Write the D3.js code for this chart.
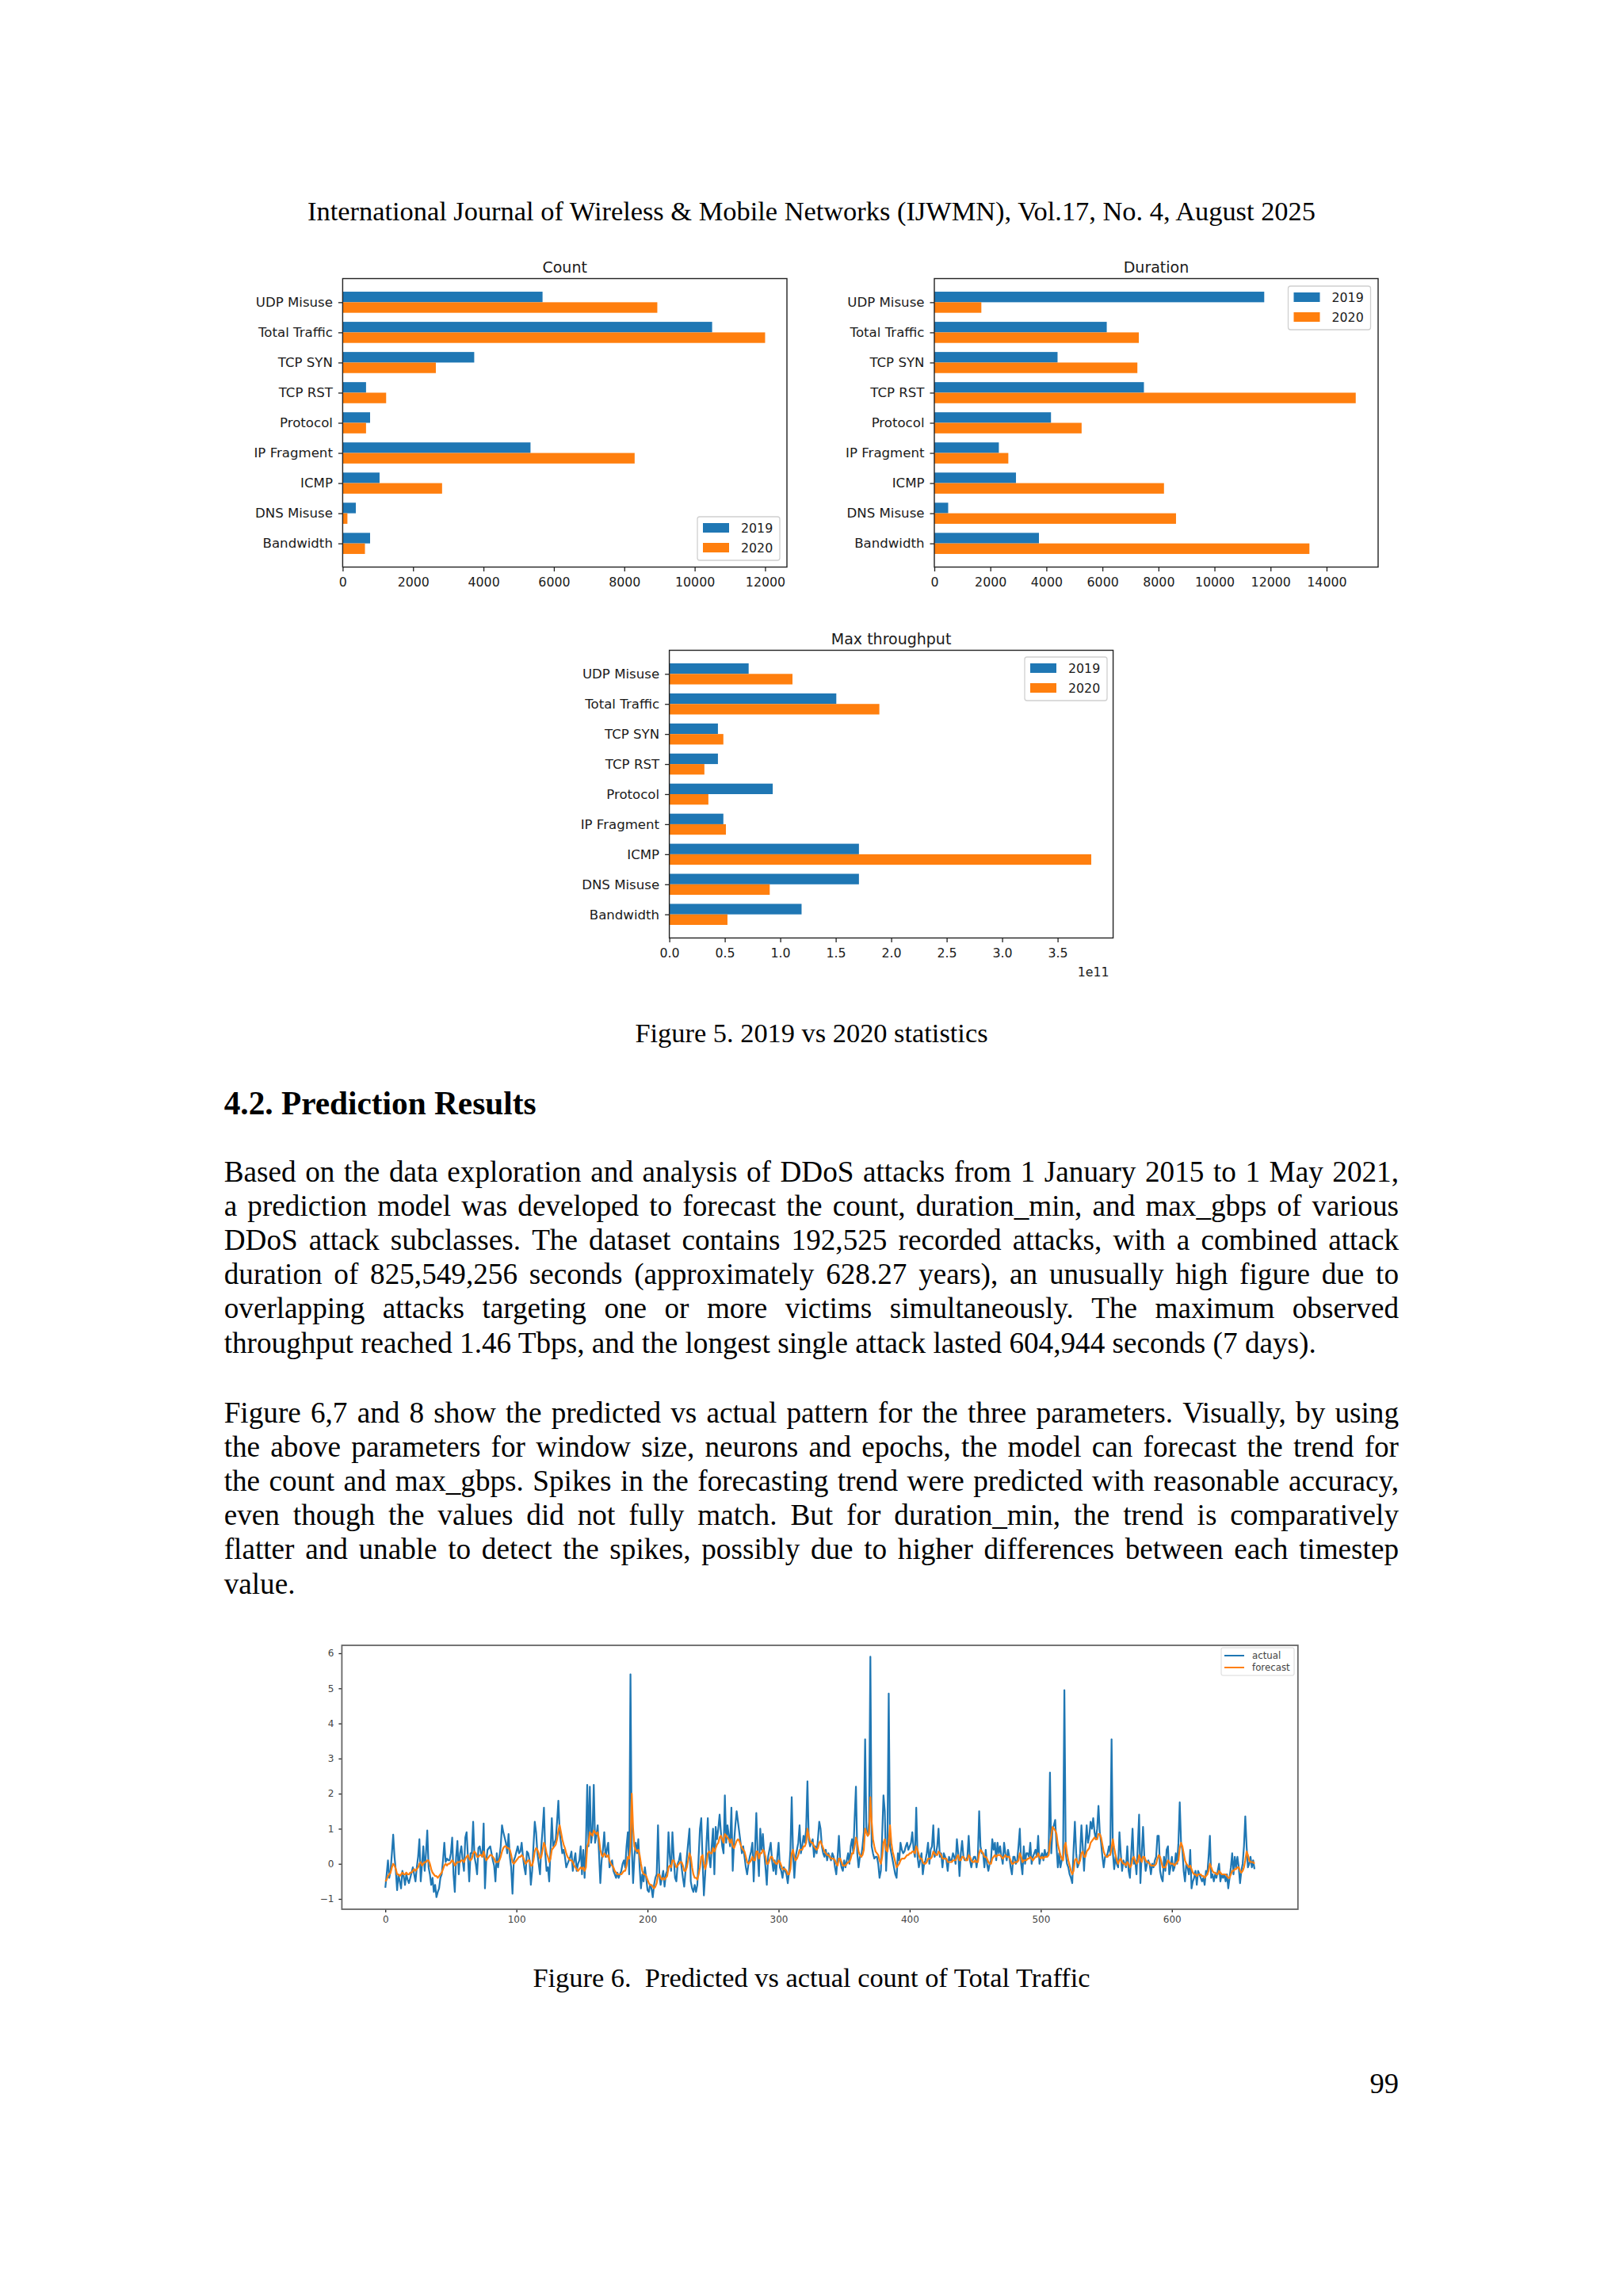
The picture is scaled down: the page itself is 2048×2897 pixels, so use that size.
<!DOCTYPE html>
<html><head><meta charset="utf-8">
<script src="https://cdn.jsdelivr.net/npm/d3@7"></script>
<style>html,body{margin:0;padding:0;background:#fff;} svg{display:block;}</style>
</head><body>
<svg id="page" width="2048" height="2897"></svg>
<script>
// ---------------- DATA ----------------
const categories = ["UDP Misuse","Total Traffic","TCP SYN","TCP RST","Protocol","IP Fragment","ICMP","DNS Misuse","Bandwidth"];
const years = ["2019","2020"];
const count2019 = [5678, 10495, 3737, 664, 779, 5336, 1048, 374, 779];
const count2020 = [8938, 12000, 2647, 1235, 664, 8294, 2824, 135, 633];
const duration2019 = [11775, 6154, 4398, 7481, 4164, 2303, 2914, 494, 3734];
const duration2020 = [1678, 7299, 7247, 15041, 5257, 2641, 8197, 8626, 13388];
const throughput2019 = [0.715e11, 1.505e11, 0.438e11, 0.438e11, 0.932e11, 0.487e11, 1.709e11, 1.709e11, 1.192e11];
const throughput2020 = [1.110e11, 1.893e11, 0.487e11, 0.316e11, 0.352e11, 0.510e11, 3.803e11, 0.905e11, 0.524e11];
const countTicks = [0,2000,4000,6000,8000,10000,12000];
const durationTicks = [0,2000,4000,6000,8000,10000,12000,14000];
const throughputTicks = [0,0.5e11,1e11,1.5e11,2e11,2.5e11,3e11,3.5e11];
const throughputTickLabels = ["0.0","0.5","1.0","1.5","2.0","2.5","3.0","3.5"];
const lineSeriesNames = ["actual","forecast"];
const lineXTicks = [0,100,200,300,400,500,600];
const lineYTicks = [-1,0,1,2,3,4,5,6];
const actual = [-0.68,-0.3,0.1,-0.4,-0.2,0.3,0.83,0.2,-0.2,-0.75,
-0.3,-0.5,-0.7,-0.2,-0.35,-0.6,-0.3,-0.45,-0.55,-0.4,
-0.25,-0.1,-0.3,-0.5,-0.1,0.2,0.7,-0.5,0.0,0.5,
-0.2,0.3,0.95,-0.1,-0.3,-0.6,-0.4,-0.8,-0.6,-0.95,
-0.8,-0.7,-0.4,-0.3,0.1,0.6,0.05,0.15,0.1,0.1,
0.3,0.75,-0.3,-0.8,0.2,0.65,-0.3,0.3,0.5,0.1,
-0.2,0.75,0.9,0.2,-0.5,0.3,0.3,1.2,0.2,0.0,
-0.3,0.45,0.5,0.3,0.2,1.15,-0.7,0.1,0.4,0.45,
0.5,0.3,0.1,-0.05,-0.5,0.3,-0.1,0.2,0.5,1.1,
0.9,0.75,0.6,0.3,0.85,0.2,-0.1,-0.85,0.1,0.2,
0.35,0.5,0.3,0.35,0.6,0.2,-0.1,-0.3,0.35,0.3,
0.1,-0.6,-0.2,0.5,1.2,0.9,0.3,0.0,-0.3,0.5,
1.0,1.6,0.3,-0.2,-0.1,-0.5,0.4,1.3,0.5,0.6,
0.7,1.2,1.8,0.9,0.6,0.3,0.4,0.2,-0.1,0.0,
0.1,0.2,0.35,-0.2,0.1,0.3,-0.2,0.0,0.1,0.5,
-0.3,0.4,-0.4,0.5,2.25,0.5,2.2,0.6,0.9,2.25,
0.6,0.8,1.1,0.3,-0.55,0.1,0.4,0.9,0.2,0.4,
0.6,-0.1,0.0,0.1,-0.2,-0.3,-0.4,-0.25,-0.4,-0.3,
-0.2,0.0,0.1,-0.1,0.5,0.9,-0.3,5.4,0.5,-0.55,
0.2,0.6,0.3,0.7,-0.1,-0.7,-0.3,-0.5,-0.1,-0.4,
-0.75,-0.8,-0.6,-0.7,-0.95,-0.6,-0.4,-0.3,1.1,-0.3,
-0.6,-0.4,-0.2,-0.65,-0.3,-0.2,0.9,0.2,-0.2,0.9,
0.2,-0.4,-0.5,0.0,0.1,0.3,-0.1,-0.4,-0.65,-0.2,
0.2,0.6,1.0,-0.5,-0.7,-0.8,-0.6,-0.8,-0.6,0.2,
1.0,1.3,0.1,-0.9,-0.3,0.6,1.3,0.2,-0.1,0.5,
1.0,-0.3,1.05,0.7,1.0,1.4,0.9,0.5,0.3,1.95,
0.6,1.1,0.8,0.5,1.6,-0.2,0.6,1.1,1.5,1.2,
0.9,0.6,0.3,0.5,0.2,-0.1,-0.3,0.0,0.2,0.35,
0.6,-0.5,0.4,1.45,0.3,-0.35,1.0,0.4,0.85,0.3,
-0.1,-0.6,0.2,0.4,0.6,0.1,-0.2,0.1,-0.3,0.2,
0.6,-0.1,-0.2,-0.4,-0.1,-0.2,-0.3,-0.55,-0.2,0.4,
1.9,0.3,-0.4,0.2,0.4,0.6,1.1,0.3,0.5,0.8,
0.6,1.0,2.35,0.7,0.5,0.6,0.7,0.2,0.5,0.3,
0.7,1.2,1.0,0.5,0.3,0.2,0.4,0.1,0.3,0.2,
0.1,0.3,0.2,-0.1,-0.3,0.2,0.8,0.1,-0.1,-0.2,
0.1,-0.1,0.1,0.3,0.0,0.5,0.7,0.3,1.3,2.2,
0.3,-0.1,0.2,0.2,0.5,0.9,3.55,0.9,0.8,1.2,
5.9,0.5,0.3,0.15,0.2,0.2,0.0,-0.4,-0.2,0.8,
1.95,1.5,-0.2,0.6,4.85,0.5,0.3,0.1,-0.1,-0.3,
-0.4,0.3,0.1,0.6,0.4,0.3,0.35,0.5,0.6,0.4,
0.5,0.6,0.9,0.4,0.2,1.6,0.2,-0.1,0.1,0.3,
-0.3,0.0,0.1,0.3,0.6,0.0,0.4,0.5,1.1,0.2,
0.3,0.5,1.0,0.2,0.3,-0.1,0.3,0.2,0.1,-0.2,
0.2,0.1,0.1,0.3,0.2,0.0,0.7,0.3,-0.35,0.3,
0.65,0.2,0.1,0.1,0.2,0.8,0.1,-0.1,0.1,0.2,
0.2,-0.1,0.2,1.5,0.5,0.3,0.3,-0.1,0.4,0.0,
-0.2,0.0,0.1,0.7,0.4,0.6,0.1,0.6,0.3,0.5,
0.2,0.0,0.6,0.3,0.1,0.4,0.2,-0.1,-0.3,0.2,
0.2,0.0,0.1,0.5,1.0,0.0,-0.3,0.5,0.0,0.3,
0.3,0.2,0.6,0.0,0.2,0.3,0.4,0.2,0.8,0.0,
0.2,0.3,0.1,0.4,0.2,0.3,0.35,2.6,0.3,1.0,
1.1,1.25,0.5,-0.1,0.3,-0.1,0.1,0.2,4.95,0.3,
0.0,-0.1,-0.3,-0.4,-0.55,0.4,1.2,0.3,-0.1,0.0,
0.3,1.1,0.5,-0.2,0.5,1.1,0.6,0.8,1.2,1.0,
1.3,0.9,0.7,1.0,1.65,0.9,0.6,0.2,-0.1,0.2,
0.2,0.3,0.5,0.3,3.55,0.3,-0.15,0.2,0.0,-0.1,
0.9,0.3,-0.2,0.1,0.0,-0.1,0.5,-0.2,-0.4,0.3,
1.0,0.0,0.1,-0.3,0.5,1.4,-0.55,0.3,1.05,0.2,
-0.2,0.0,0.1,0.0,-0.3,0.0,-0.1,0.1,0.2,0.8,
0.8,-0.2,-0.4,-0.5,0.2,-0.2,0.4,0.5,-0.3,-0.1,
0.2,-0.2,-0.1,0.3,0.0,0.6,1.75,0.6,0.4,-0.2,
-0.5,0.0,-0.1,-0.3,0.4,-0.7,-0.5,-0.4,-0.2,-0.6,
-0.2,-0.3,-0.4,-0.5,-0.4,-0.6,-0.2,-0.3,0.2,0.8,
-0.4,-0.3,-0.5,-0.3,-0.4,-0.2,0.0,-0.5,-0.3,-0.4,
-0.3,-0.5,-0.3,-0.7,-0.4,-0.1,0.3,-0.3,0.2,-0.1,
0.2,-0.1,-0.55,-0.2,0.0,0.5,1.35,0.5,-0.1,0.0,
0.2,-0.1,0.1,-0.15];
const forecast = [-0.5,-0.45,-0.35,-0.3,-0.25,-0.1,0.0,-0.05,-0.15,-0.3,
-0.3,-0.35,-0.3,-0.25,-0.3,-0.3,-0.25,-0.3,-0.3,-0.25,
-0.25,-0.2,-0.15,-0.2,-0.15,-0.1,0.0,0.05,-0.05,0.0,
0.05,0.05,0.1,0.1,0.0,-0.15,-0.25,-0.3,-0.35,-0.35,
-0.4,-0.35,-0.3,-0.25,-0.15,-0.05,0.0,-0.05,0.0,0.0,
0.05,0.1,0.05,-0.05,0.0,0.05,0.05,0.05,0.1,0.1,
0.05,0.15,0.2,0.25,0.15,0.1,0.15,0.3,0.35,0.3,
0.2,0.2,0.25,0.25,0.2,0.35,0.2,0.1,0.15,0.2,
0.25,0.25,0.2,0.15,0.05,0.05,0.05,0.1,0.2,0.35,
0.45,0.5,0.5,0.45,0.45,0.4,0.25,0.05,0.0,0.05,
0.1,0.15,0.2,0.2,0.25,0.2,0.1,0.0,0.05,0.1,
0.1,-0.05,-0.05,0.1,0.35,0.45,0.4,0.3,0.15,0.2,
0.4,0.6,0.5,0.3,0.2,0.05,0.15,0.4,0.45,0.5,
0.55,0.7,0.95,1.1,0.9,0.7,0.55,0.45,0.3,0.2,
0.15,0.1,0.1,0.05,-0.05,-0.1,-0.15,-0.2,-0.15,-0.1,
-0.15,-0.1,-0.2,-0.1,0.5,0.6,0.9,0.85,0.8,0.95,
0.9,0.85,0.9,0.7,0.4,0.25,0.2,0.3,0.25,0.2,
0.25,0.1,0.0,-0.05,-0.1,-0.2,-0.25,-0.3,-0.3,-0.3,
-0.3,-0.25,-0.2,-0.2,-0.05,0.2,0.15,0.5,2.0,1.0,
0.5,0.4,0.35,0.4,0.25,0.0,-0.2,-0.3,-0.3,-0.35,
-0.45,-0.55,-0.6,-0.6,-0.65,-0.7,-0.65,-0.55,-0.3,-0.3,
-0.4,-0.45,-0.4,-0.45,-0.4,-0.35,-0.1,-0.05,-0.1,0.1,
0.1,0.0,-0.1,-0.05,0.0,0.05,0.05,-0.05,-0.2,-0.2,
-0.1,0.1,0.3,0.2,-0.1,-0.3,-0.4,-0.4,-0.45,-0.3,
-0.1,0.2,0.25,0.0,-0.15,0.0,0.3,0.35,0.3,0.3,
0.45,0.35,0.45,0.55,0.6,0.75,0.8,0.7,0.6,0.85,
0.8,0.75,0.7,0.6,0.7,0.5,0.45,0.55,0.65,0.7,
0.65,0.55,0.45,0.4,0.35,0.2,0.05,0.0,0.05,0.1,
0.2,0.1,0.1,0.35,0.35,0.15,0.3,0.3,0.4,0.35,
0.2,0.0,0.0,0.1,0.2,0.2,0.1,0.05,0.0,0.0,
0.1,0.05,-0.05,-0.15,-0.15,-0.15,-0.2,-0.3,-0.3,-0.15,
0.3,0.4,0.2,0.1,0.15,0.25,0.4,0.4,0.4,0.5,
0.5,0.6,1.0,0.8,0.65,0.6,0.6,0.5,0.45,0.4,
0.45,0.6,0.65,0.55,0.45,0.35,0.3,0.25,0.25,0.2,
0.15,0.15,0.15,0.1,0.0,-0.05,0.15,0.15,0.05,-0.05,
-0.05,-0.05,0.0,0.05,0.05,0.15,0.3,0.3,0.5,0.75,
0.6,0.35,0.25,0.2,0.25,0.4,1.0,0.9,0.8,0.85,
1.9,1.2,0.7,0.5,0.35,0.3,0.25,0.1,0.0,0.2,
0.6,0.7,0.4,0.35,0.6,1.1,0.6,0.35,0.2,0.05,
-0.1,-0.05,0.0,0.1,0.15,0.15,0.15,0.2,0.25,0.25,
0.3,0.3,0.35,0.35,0.3,0.5,0.4,0.25,0.15,0.15,
0.05,0.0,0.0,0.05,0.15,0.15,0.15,0.2,0.35,0.3,
0.25,0.25,0.35,0.3,0.25,0.15,0.15,0.15,0.15,0.05,
0.05,0.05,0.05,0.1,0.1,0.1,0.2,0.25,0.1,0.1,
0.2,0.2,0.15,0.1,0.1,0.25,0.2,0.1,0.05,0.05,
0.1,0.05,0.05,0.3,0.4,0.35,0.3,0.2,0.2,0.15,
0.05,0.0,0.0,0.15,0.2,0.25,0.2,0.25,0.25,0.25,
0.2,0.15,0.2,0.25,0.2,0.2,0.2,0.1,0.0,0.0,
0.05,0.05,0.05,0.1,0.3,0.2,0.05,0.1,0.1,0.1,
0.15,0.15,0.2,0.15,0.1,0.15,0.2,0.2,0.3,0.2,
0.15,0.2,0.15,0.2,0.2,0.2,0.25,0.6,0.8,1.05,
1.0,0.95,0.85,0.55,0.4,0.25,0.15,0.1,0.5,0.6,
0.3,0.1,-0.05,-0.2,-0.3,-0.2,0.1,0.15,0.05,0.0,
0.1,0.3,0.35,0.2,0.2,0.35,0.4,0.45,0.6,0.65,
0.7,0.75,0.7,0.7,0.85,0.85,0.75,0.55,0.35,0.25,
0.2,0.2,0.25,0.25,0.45,0.7,0.45,0.25,0.1,0.0,
0.1,0.15,0.05,0.0,0.0,-0.05,0.05,0.0,-0.1,-0.05,
0.15,0.2,0.1,0.0,0.05,0.25,0.15,0.05,0.2,0.2,
0.1,0.05,0.05,0.0,-0.05,-0.05,-0.05,-0.05,0.0,0.15,
0.25,0.2,0.05,-0.1,-0.1,-0.1,0.0,0.1,0.05,0.0,
0.0,0.0,-0.05,0.0,0.05,0.1,0.45,0.6,0.5,0.3,
0.1,0.0,-0.05,-0.1,-0.05,-0.15,-0.25,-0.3,-0.3,-0.35,
-0.3,-0.3,-0.3,-0.35,-0.35,-0.4,-0.35,-0.3,-0.2,0.0,
-0.1,-0.2,-0.25,-0.25,-0.3,-0.3,-0.2,-0.25,-0.3,-0.3,
-0.3,-0.3,-0.35,-0.4,-0.4,-0.3,-0.2,-0.2,-0.15,-0.15,
-0.1,-0.1,-0.2,-0.25,-0.2,-0.1,0.1,0.35,0.25,0.1,
0.05,0.05,0.05,0.0];

const headerText = "International Journal of Wireless & Mobile Networks (IJWMN), Vol.17, No. 4, August 2025";
const fig5Caption = "Figure 5. 2019 vs 2020 statistics";
const headingText = "4.2. Prediction Results";
const para1 = [
 "Based on the data exploration and analysis of DDoS attacks from 1 January 2015 to 1 May 2021,",
 "a prediction model was developed to forecast the count, duration_min, and max_gbps of various",
 "DDoS attack subclasses. The dataset contains 192,525 recorded attacks, with a combined attack",
 "duration of 825,549,256 seconds (approximately 628.27 years), an unusually high figure due to",
 "overlapping attacks targeting one or more victims simultaneously. The maximum observed",
 "throughput reached 1.46 Tbps, and the longest single attack lasted 604,944 seconds (7 days)."];
const para2 = [
 "Figure 6,7 and 8 show the predicted vs actual pattern for the three parameters. Visually, by using",
 "the above parameters for window size, neurons and epochs, the model can forecast the trend for",
 "the count and max_gbps. Spikes in the forecasting trend were predicted with reasonable accuracy,",
 "even though the values did not fully match. But for duration_min, the trend is comparatively",
 "flatter and unable to detect the spikes, possibly due to higher differences between each timestep",
 "value."];
const fig6Caption = "Figure 6.  Predicted vs actual count of Total Traffic";
const pageNumber = "99";

// ---------------- DRAWING ----------------
const svg = d3.select('#page');
svg.append('rect').attr('width',2048).attr('height',2897).attr('fill','#fff');
const BLUE='#1f77b4', ORANGE='#ff7f0e';
const SANS = "'DejaVu Sans', sans-serif";
const SERIF = "'Liberation Serif', 'Times New Roman', serif";
const TXT = '#1a1a1a';

function styleAxis(sel, size) {
  sel.attr('font-family', SANS).attr('font-size', size);
  sel.select('.domain').remove();
  sel.selectAll('.tick line').attr('stroke', '#222').attr('stroke-width', 1.3);
  sel.selectAll('.tick text').attr('fill', TXT);
}

function barLegend(bx, by) {
  const g = svg.append('g');
  g.append('rect').attr('x',bx).attr('y',by).attr('width',104).attr('height',55).attr('rx',3)
    .attr('fill','#fff').attr('fill-opacity',0.85).attr('stroke','#d0d0d0').attr('stroke-width',1.3);
  const cols = [BLUE, ORANGE];
  years.forEach((yr,i)=>{
    g.append('rect').attr('x',bx+7).attr('y',by+8+i*25).attr('width',33).attr('height',12).attr('fill',cols[i]);
    g.append('text').attr('x',bx+55).attr('y',by+14+i*25).attr('dy','0.36em')
      .attr('font-family',SANS).attr('font-size',15.8).attr('fill',TXT).text(yr);
  });
}

function barChart(cfg) {
  const {left, top, width, height, title, v2019, v2020, xMax, ticks, labels, legendX, legendY, offsetText} = cfg;
  const g = svg.append('g');
  const x = d3.scaleLinear().domain([0,xMax]).range([left,left+width]);
  const y = d3.scaleLinear().domain([-0.785, categories.length-1+0.785]).range([top, top+height]);
  const bh = y(0.35)-y(0);
  g.append('g').selectAll('rect').data(v2019).join('rect')
    .attr('x',x(0)).attr('y',(d,i)=>y(i-0.35)).attr('width',d=>x(d)-x(0)).attr('height',bh).attr('fill',BLUE);
  g.append('g').selectAll('rect').data(v2020).join('rect')
    .attr('x',x(0)).attr('y',(d,i)=>y(i)).attr('width',d=>x(d)-x(0)).attr('height',bh).attr('fill',ORANGE);
  const xa = g.append('g').attr('transform',`translate(0,${top+height})`)
    .call(d3.axisBottom(x).tickValues(ticks).tickFormat((d,i)=>labels[i]).tickSize(5.5).tickPadding(8));
  styleAxis(xa, 15.8);
  const ya = g.append('g').attr('transform',`translate(${left},0)`)
    .call(d3.axisLeft(y).tickValues(d3.range(categories.length)).tickFormat(i=>categories[i]).tickSize(5.5).tickPadding(7));
  styleAxis(ya, 16.6);
  g.append('rect').attr('x',left).attr('y',top).attr('width',width).attr('height',height)
    .attr('fill','none').attr('stroke','#222').attr('stroke-width',1.4);
  g.append('text').attr('x',left+width/2).attr('y',top-8).attr('text-anchor','middle')
    .attr('font-family',SANS).attr('font-size',19).attr('fill',TXT).text(title);
  if (offsetText) {
    g.append('text').attr('x',left+width-5).attr('y',top+height+48).attr('text-anchor','end')
      .attr('font-family',SANS).attr('font-size',15.8).attr('fill',TXT).text(offsetText);
  }
  barLegend(legendX, legendY);
}

barChart({left:432.4, top:351.5, width:560.6, height:364, title:'Count', v2019:count2019, v2020:count2020,
  xMax:12620, ticks:countTicks, labels:countTicks.map(String), legendX:880, legendY:652});
barChart({left:1179, top:351.5, width:560, height:364, title:'Duration', v2019:duration2019, v2020:duration2020,
  xMax:15840, ticks:durationTicks, labels:durationTicks.map(String), legendX:1625.5, legendY:361});
barChart({left:844.6, top:820.5, width:560, height:363, title:'Max throughput', v2019:throughput2019, v2020:throughput2020,
  xMax:4.0e11, ticks:throughputTicks, labels:throughputTickLabels, legendX:1293, legendY:829, offsetText:'1e11'});

// ---- line chart ----
(function(){
  const L=431.4, R=1637.8, T=2076, B=2409;
  const g = svg.append('g');
  const x = d3.scaleLinear().domain([-33.15, 696.15]).range([L,R]);
  const y = d3.scaleLinear().domain([-1.294, 6.226]).range([B,T]);
  const line = d3.line().x((d,i)=>x(i)).y(d=>y(d));
  g.append('path').datum(actual).attr('d',line).attr('fill','none').attr('stroke',BLUE).attr('stroke-width',2.2).attr('stroke-linejoin','round');
  g.append('path').datum(forecast).attr('d',line).attr('fill','none').attr('stroke',ORANGE).attr('stroke-width',2.2).attr('stroke-linejoin','round');
  const xa = g.append('g').attr('transform',`translate(0,${B})`)
    .call(d3.axisBottom(x).tickValues(lineXTicks).tickFormat(d3.format('d')).tickSize(4).tickPadding(4));
  styleAxis(xa, 12);
  const ya = g.append('g').attr('transform',`translate(${L},0)`)
    .call(d3.axisLeft(y).tickValues(lineYTicks).tickFormat(d=>d<0?'\u2212'+Math.abs(d):String(d)).tickSize(4).tickPadding(6));
  styleAxis(ya, 12);
  xa.selectAll('.tick text').attr('fill','#444');
  ya.selectAll('.tick text').attr('fill','#444');
  g.append('rect').attr('x',L).attr('y',T).attr('width',R-L).attr('height',B-T)
    .attr('fill','none').attr('stroke','#666').attr('stroke-width',1.8);
  // legend
  const lg = g.append('g');
  lg.append('rect').attr('x',1541).attr('y',2079).attr('width',92).attr('height',35).attr('rx',2)
    .attr('fill','#fff').attr('fill-opacity',0.85).attr('stroke','#d8d8d8').attr('stroke-width',1);
  [BLUE,ORANGE].forEach((c,i)=>{
    const yy = 2089 + i*15;
    lg.append('line').attr('x1',1545).attr('x2',1570).attr('y1',yy).attr('y2',yy).attr('stroke',c).attr('stroke-width',2);
    lg.append('text').attr('x',1580).attr('y',yy).attr('dy','0.36em').attr('font-family',SANS)
      .attr('font-size',11.8).attr('fill','#444').text(lineSeriesNames[i]);
  });
})();

// ---- page text ----
function textLine(str, x, y, size, opts={}) {
  return svg.append('text').attr('x',x).attr('y',y).attr('font-family',SERIF).attr('font-size',size)
    .attr('fill','#000').attr('text-anchor',opts.anchor||'start').attr('font-weight',opts.bold?'bold':'normal')
    .style('white-space','pre').text(str);
}
const measurer = svg.append('text').attr('font-family',SERIF).attr('x',-1000).attr('y',-1000);
function justified(str, x0, y, W, size) {
  measurer.attr('font-size', size);
  const words = str.split(' ');
  const widths = words.map(w=>{ measurer.text(w); return measurer.node().getComputedTextLength(); });
  const total = d3.sum(widths);
  const gap = (W-total)/(words.length-1);
  const t = svg.append('text').attr('y',y).attr('font-family',SERIF).attr('font-size',size).attr('fill','#000');
  let cx = x0;
  words.forEach((w,i)=>{ t.append('tspan').attr('x',cx).text(w); cx += widths[i]+gap; });
}
const PL = 282.7, PW = 1482.3, BODY = 37.2, LH = 43.1;
textLine(headerText, 1024, 278, 34.4, {anchor:'middle'});
textLine(fig5Caption, 1024, 1315, 34.4, {anchor:'middle'});
textLine(headingText, PL, 1406, 41.3, {bold:true});
para1.forEach((s,i)=>{ const y = 1491 + i*LH; if (i<para1.length-1) justified(s, PL, y, PW, BODY); else textLine(s, PL, y, BODY); });
para2.forEach((s,i)=>{ const y = 1795 + i*LH; if (i<para2.length-1) justified(s, PL, y, PW, BODY); else textLine(s, PL, y, BODY); });
textLine(fig6Caption, 1024, 2507, 34.4, {anchor:'middle'});
textLine(pageNumber, 1765, 2641, 36.5, {anchor:'end'});
measurer.remove();
</script>
</body></html>
